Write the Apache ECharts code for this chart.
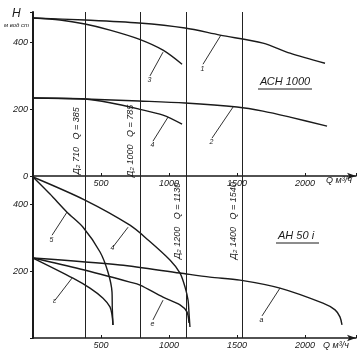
<!DOCTYPE html>
<html><head><meta charset="utf-8">
<script src="https://cdn.jsdelivr.net/npm/echarts@6/dist/echarts.min.js"></script>
<style>html,body{margin:0;padding:0;background:#fff}#c{width:362px;height:359px}</style>
</head><body><div id="c"></div>
<script>
// ---------- data ----------
const xTickLabels = [500, 1000, 1500, 2000];
const yTickLabelsTop = [0, 200, 400];
const yTickLabelsBottom = [200, 400];

// АСН 1000 (upper chart): Q m3/h, H m
const topCurve1 = [[0,472],[382,466],[779,457],[1118,442],[1375,421],[1691,397],[1890,367],[2147,337]];
const topCurve3 = [[0,472],[199,466],[382,454],[566,436],[779,409],[956,376],[1096,334]];
const topCurve2 = [[0,233],[382,230],[779,224],[1118,218],[1500,206],[1691,194],[1890,176],[2162,149]];
const topCurve4 = [[0,233],[382,230],[566,219],[779,200],[956,182],[1096,155]];
const topLabels = ['1', '3', '2', '4'];
const topLeaders = [
  [[1382,421],[1250,334]],
  [[956,370],[860,299]],
  [[1471,206],[1316,113]],
  [[993,176],[882,104]]
];

// АН 501 (lower chart)
const botCurveA = [[0,481],[125,430],[250,376],[368,331],[493,257],[551,197],[581,137],[583,90],[588,39]];
const botCurveB = [[0,481],[382,412],[713,337],[846,293],[1007,233],[1081,194],[1118,152],[1140,113],[1147,75],[1154,33]];
const botCurveC = [[0,239],[294,179],[419,149],[515,119],[566,93],[581,69],[588,39]];
const botCurveD = [[0,239],[346,206],[713,167],[787,158],[956,122],[1081,99],[1132,78],[1147,45]];
const botCurveE = [[0,239],[640,218],[1081,194],[1301,182],[1522,173],[1816,149],[2132,104],[2221,84],[2257,63],[2272,39]];
const botLabels = ['5', '4', 'ε', 'e', 'a'];
const botLeaders = [
  [[250,376],[140,307]],
  [[699,331],[588,272]],
  [[287,179],[162,113]],
  [[956,113],[882,54]],
  [[1816,149],[1684,66]]
];

// vertical lines (impeller diameter limits)
const vLinesTop = [385, 785];
const vLinesBottom = [1130, 1540];
const vTextsTop = ['Д₂ 710   Q = 385', 'Д₂ 1000   Q = 785'];
const vTextsBottom = ['Д₂ 1200   Q = 1130', 'Д₂ 1400   Q = 1540'];
const vLinesAll = [385, 785, 1130, 1540];

// ---------- chart ----------
const FONT = 'Liberation Sans';
const INK = '#1a1a1a';
const chart = echarts.init(document.getElementById('c'));

function curve(data, xi, label, leader) {
  return {
    type: 'line', xAxisIndex: xi, yAxisIndex: xi, data: data,
    smooth: 0.3, symbol: 'none', silent: true,
    lineStyle: { color: INK, width: 1.4 },
    markLine: {
      silent: true, symbol: ['none', 'none'],
      lineStyle: { color: INK, width: 0.9, type: 'solid' },
      label: { show: true, position: 'end', formatter: label, color: INK,
               fontSize: 7, fontStyle: 'italic', fontFamily: FONT, distance: 1 },
      data: [[{ coord: leader[0] }, { coord: leader[1] }]]
    }
  };
}
function vlines(xi) {
  return {
    type: 'line', xAxisIndex: xi, yAxisIndex: xi, data: [], silent: true,
    markLine: {
      silent: true, symbol: ['none', 'none'],
      lineStyle: { color: '#222', width: 1, type: 'solid' },
      label: { show: false },
      data: vLinesAll.map(v => ({ xAxis: v }))
    }
  };
}
const lblStyle = { color: INK, fontSize: 9, fontStyle: 'italic', fontFamily: FONT };
function xAxis(gi, margin) {
  return {
    type: 'value', gridIndex: gi, min: 0, max: 2375, interval: 500,
    axisLine: { lineStyle: { color: INK, width: 1.5 }, symbol: ['none', 'arrow'], symbolSize: [5, 9] },
    axisTick: { show: true, length: 3, inside: true, lineStyle: { color: INK } },
    splitLine: { show: false },
    axisLabel: Object.assign({ margin: margin,
      formatter: v => xTickLabels.includes(v) ? String(v) : '' }, lblStyle)
  };
}
function yAxis(gi, max, labels) {
  return {
    type: 'value', gridIndex: gi, min: 0, max: max, interval: 200,
    axisLine: { show: true, lineStyle: { color: INK, width: 2 } },
    axisTick: { show: true, length: 3, lineStyle: { color: INK } },
    splitLine: { show: false },
    axisLabel: Object.assign({ margin: 5,
      formatter: v => labels.includes(v) ? String(v) : '' }, lblStyle)
  };
}

chart.setOption({
  animation: false,
  backgroundColor: '#fff',
  grid: [
    { left: 33, top: 12, width: 323, height: 164 },
    { left: 33, top: 176, width: 323, height: 162 }
  ],
  xAxis: [xAxis(0, 3), xAxis(1, 3)],
  yAxis: [yAxis(0, 490, yTickLabelsTop), yAxis(1, 484, yTickLabelsBottom)],
  series: [
    vlines(0), vlines(1),
    curve(topCurve1, 0, topLabels[0], topLeaders[0]),
    curve(topCurve3, 0, topLabels[1], topLeaders[1]),
    curve(topCurve2, 0, topLabels[2], topLeaders[2]),
    curve(topCurve4, 0, topLabels[3], topLeaders[3]),
    curve(botCurveA, 1, botLabels[0], botLeaders[0]),
    curve(botCurveB, 1, botLabels[1], botLeaders[1]),
    curve(botCurveC, 1, botLabels[2], botLeaders[2]),
    curve(botCurveD, 1, botLabels[3], botLeaders[3]),
    curve(botCurveE, 1, botLabels[4], botLeaders[4])
  ]
});

// annotations positioned from data coordinates
const g = [];
function rotText(gi, q, h, txt) {
  const p = chart.convertToPixel({ gridIndex: gi }, [q, h]);
  g.push({ type: 'text', x: p[0] - 9, y: p[1], rotation: Math.PI / 2,
    style: { text: txt, fill: INK, font: 'italic 9px "' + FONT + '"', textAlign: 'center', textVerticalAlign: 'middle' } });
}
vLinesTop.forEach((q, i) => rotText(0, q, 105, vTextsTop[i]));
vLinesBottom.forEach((q, i) => rotText(1, q, 350, vTextsBottom[i]));

function txt(x, y, s, size, align) {
  g.push({ type: 'text', x: x, y: y,
    style: { text: s, fill: INK, font: 'italic ' + size + 'px "' + FONT + '"', textAlign: align || 'left', textVerticalAlign: 'middle' } });
}
txt(12, 14, 'H', 12);
txt(4, 25, 'м вод ст', 6);
txt(326, 180, 'Q м³/ч', 9);
txt(323, 345, 'Q м³/ч', 9);
txt(260, 82, 'АСН 1000', 11);
txt(278, 236, 'АН 50 і', 11);
g.push({ type: 'line', shape: { x1: 258, y1: 89, x2: 312, y2: 89 }, style: { stroke: INK, lineWidth: 1 } });
g.push({ type: 'line', shape: { x1: 276, y1: 243, x2: 319, y2: 243 }, style: { stroke: INK, lineWidth: 1 } });
chart.setOption({ graphic: g });
</script>
</body></html>
